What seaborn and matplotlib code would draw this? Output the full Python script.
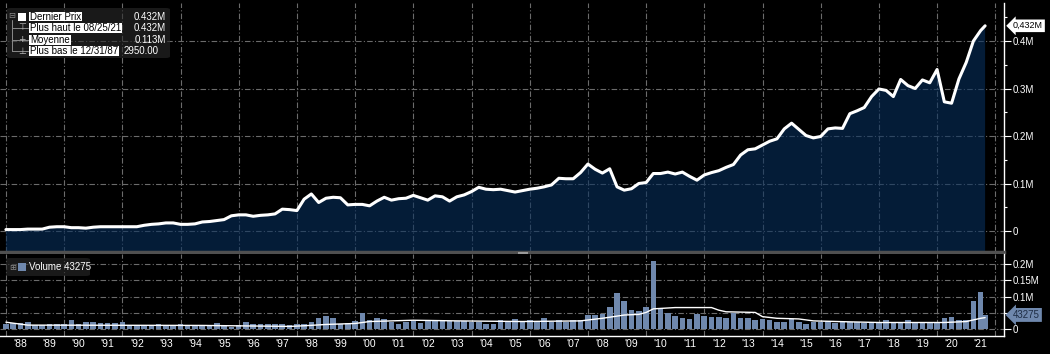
import matplotlib
matplotlib.use('Agg')
import pandas as pd
import matplotlib.pyplot as plt
import matplotlib.dates as mdates
from matplotlib.patches import FancyBboxPatch, Rectangle
from matplotlib.lines import Line2D
from matplotlib.ticker import FixedLocator, FuncFormatter, NullFormatter
from matplotlib.transforms import blended_transform_factory
import seaborn as sns

sns.set_style('dark')
plt.rcParams['font.family'] = ['Liberation Sans Narrow', 'Liberation Sans', 'DejaVu Sans']

# ---- data (quarter ends, last point 08/25/21) ----
quarter_days = [(3, 31), (6, 30), (9, 30), (12, 31)]
dates = [pd.Timestamp(y, m, d) for y in range(1987, 2022) for m, d in quarter_days
         if (1987, 12) <= (y, m) <= (2021, 6)]
dates.append(pd.Timestamp('2021-08-25'))

# last price, millions
price_m = [0.003, 0.003, 0.003, 0.004, 0.004, 0.004, 0.008, 0.009, 0.009, 0.007,
           0.007, 0.006, 0.008, 0.009, 0.009, 0.009, 0.009, 0.009, 0.009, 0.012,
           0.014, 0.015, 0.017, 0.017, 0.014, 0.014, 0.015, 0.019, 0.020, 0.022,
           0.024, 0.032, 0.034, 0.034, 0.031, 0.033, 0.034, 0.036, 0.046, 0.045,
           0.043, 0.067, 0.078, 0.060, 0.069, 0.071, 0.070, 0.055, 0.056, 0.056,
           0.053, 0.063, 0.071, 0.065, 0.068, 0.069, 0.075, 0.070, 0.065, 0.074,
           0.072, 0.063, 0.072, 0.076, 0.083, 0.092, 0.088, 0.087, 0.088, 0.085,
           0.082, 0.085, 0.088, 0.090, 0.093, 0.097, 0.111, 0.110, 0.110, 0.123,
           0.141, 0.130, 0.122, 0.131, 0.093, 0.086, 0.089, 0.100, 0.102, 0.121,
           0.121, 0.124, 0.120, 0.124, 0.115, 0.107, 0.118, 0.123, 0.127, 0.134,
           0.140, 0.160, 0.171, 0.173, 0.181, 0.189, 0.194, 0.215, 0.227, 0.214,
           0.201, 0.196, 0.199, 0.215, 0.217, 0.216, 0.247, 0.253, 0.260, 0.283,
           0.299, 0.296, 0.283, 0.319, 0.306, 0.300, 0.318, 0.312, 0.340, 0.272,
           0.269, 0.320, 0.355, 0.400, 0.422, 0.432]

# volume, thousands
volume_k = [15, 19, 17, 23, 11, 11, 15, 15, 15, 28, 15, 23, 23, 17, 17, 17, 23, 13, 13, 13,
            9, 15, 9, 13, 15, 13, 13, 9, 11, 19, 13, 7, 13, 23, 15, 15, 15, 15, 15, 11,
            15, 15, 23, 33, 40, 35, 15, 17,
            26, 48, 28, 33, 30, 23, 15, 23, 26, 19, 26, 26, 26, 26, 26, 26, 23, 23, 15, 15,
            28, 23, 30, 23, 28, 23, 35, 23, 28, 23, 28, 28, 43, 43, 47, 69, 112, 86, 58, 55,
            69, 209, 62, 48, 40, 35, 31, 46,
            41, 38, 38, 35, 50, 35, 35, 28, 32, 28, 23, 23, 30, 23, 15, 23, 23, 26, 19, 23,
            23, 23, 19, 19, 19, 28, 19, 19, 28, 19, 19, 19, 19, 34, 38, 28, 28, 87, 115, 43]

# volume moving average, thousands
ma_dates = ['1987-12-31', '1988-09-30', '1994-09-30', '1996-09-30', '1997-09-30',
            '1998-03-31', '1998-12-31', '1999-12-31', '2000-06-30', '2001-12-31',
            '2003-06-30', '2005-09-30', '2007-09-30', '2008-06-30', '2009-03-31',
            '2009-09-30', '2009-12-31', '2010-03-31', '2010-12-31', '2012-03-31',
            '2012-06-30', '2012-09-30', '2013-09-30', '2013-12-31', '2014-06-30',
            '2015-03-31', '2015-09-30', '2016-12-31', '2017-12-31', '2020-03-31',
            '2020-12-31', '2021-06-30', '2021-08-25']
ma_k = [21, 12, 11, 9, 8, 10, 14, 17, 23, 27, 25, 23, 25, 33, 43, 45, 51, 62, 66, 66,
        58, 53, 51, 38, 33, 31, 25, 22, 20, 20, 23, 33, 35]

last_price_label = '0,432M'
last_volume = 43275
legend_labels = ['Dernier Prix', 'Plus haut le 08/25/21', 'Moyenne', 'Plus bas le 12/31/87']
legend_values = ['0.432M', '0.432M', '0.113M', '2950.00']

# ---- layout ----
W, H = 1050, 354
BG = 'black'
FILL = '#082f5d'
BAR = '#6f88ad'
grid_kw = dict(color='#6b6b6b', linewidth=0.8, linestyle=(0, (5, 2, 1, 2)))

def fx(px):
    return px / W

def fy(py):
    return 1 - py / H

fig = plt.figure(figsize=(W / 100, H / 100), dpi=100, facecolor=BG)
ax_p = fig.add_axes([0, fy(252), fx(1004), (252 - 3) / H])
ax_v = fig.add_axes([0, fy(336), fx(1004), (336 - 254) / H])

x0 = mdates.date2num(pd.Timestamp('1987-10-18'))
x1 = mdates.date2num(pd.Timestamp('2022-04-19'))

# ---- price panel ----
df_p = pd.DataFrame({'date': dates, 'price': price_m})
ax_p.set_facecolor(BG)
ax_p.fill_between(df_p['date'], df_p['price'], -1, color=FILL, alpha=0.6, lw=0, zorder=2)
sns.lineplot(data=df_p, x='date', y='price', ax=ax_p, color='white', linewidth=2.2, zorder=4)
ax_p.set_xlim(x0, x1)
ax_p.set_ylim(-0.0442, 0.48)
ax_p.yaxis.tick_right()
ax_p.yaxis.set_major_locator(FixedLocator([0, 0.1, 0.2, 0.3, 0.4]))
ax_p.yaxis.set_minor_locator(FixedLocator([0.05, 0.15, 0.25, 0.35, 0.45]))
ax_p.yaxis.set_major_formatter(FuncFormatter(lambda v, p: '0' if abs(v) < 1e-9 else f'{v:.1f}M'))
ax_p.tick_params(axis='y', which='major', colors='white', labelsize=7, length=5, width=0.8, pad=1)
ax_p.tick_params(axis='y', which='minor', colors='white', length=2.5, width=0.8)
ax_p.set_xticks([])
ax_p.yaxis.grid(True, **grid_kw)
ax_p.set_axisbelow(True)

# ---- volume panel ----
df_v = pd.DataFrame({'date': dates, 'volume': volume_k})
df_ma = pd.DataFrame({'date': pd.to_datetime(ma_dates), 'ma': ma_k})
ax_v.set_facecolor(BG)
ax_v.bar(df_v['date'], df_v['volume'], width=70, color=BAR, lw=0, zorder=3)
sns.lineplot(data=df_ma, x='date', y='ma', ax=ax_v, color='white', linewidth=1, zorder=4)
ax_v.set_xlim(x0, x1)
ax_v.set_ylim(-21.5, 230.8)
ax_v.yaxis.tick_right()
ax_v.yaxis.set_major_locator(FixedLocator([0, 50, 100, 150, 200]))
ax_v.yaxis.set_major_formatter(FuncFormatter(
    lambda v, p: '0' if v == 0 else ('' if v == 50 else f'{v / 1000:g}M')))
ax_v.tick_params(axis='y', which='major', colors='white', labelsize=7, length=5, width=0.8, pad=1)
ax_v.yaxis.grid(True, **grid_kw)
ax_v.set_axisbelow(True)

ax_v.xaxis.set_major_locator(mdates.YearLocator(1))
ax_v.xaxis.set_major_formatter(NullFormatter())
ax_v.xaxis.set_minor_locator(mdates.MonthLocator(bymonth=7, bymonthday=1))
ax_v.xaxis.set_minor_formatter(FuncFormatter(lambda x, p: "'" + mdates.num2date(x).strftime('%y')))
ax_v.tick_params(axis='x', which='major', length=10, width=0.8, color='white', direction='out')
ax_v.tick_params(axis='x', which='minor', length=0, labelsize=7.5, labelcolor='white', pad=2.5)

for ax in (ax_p, ax_v):
    ax.set_xlabel('')
    ax.set_ylabel('')
    for yr in range(1988, 2023, 2):
        ax.axvline(pd.Timestamp(yr, 1, 1), zorder=0.5, **grid_kw)
    ax.spines['left'].set_visible(False)
    ax.spines['top'].set_visible(False)
    ax.spines['right'].set_color('white')
    ax.spines['right'].set_linewidth(1)

ax_p.spines['bottom'].set_color('#505050')
ax_p.spines['bottom'].set_linewidth(2.5)
ax_v.spines['bottom'].set_color('white')
ax_v.spines['bottom'].set_linewidth(1)

# last-value tags on the right axis
tr_p = blended_transform_factory(ax_p.transAxes, ax_p.transData)
ax_p.text(1.009, price_m[-1], last_price_label, transform=tr_p, ha='left', va='center',
          fontsize=6.5, color='black', clip_on=False, zorder=6,
          bbox=dict(boxstyle='larrow,pad=0.2', fc='white', ec='none'))
tr_v = blended_transform_factory(ax_v.transAxes, ax_v.transData)
ax_v.text(1.009, last_volume / 1000, str(last_volume), transform=tr_v, ha='left', va='center',
          fontsize=7, color='#1e2d44', clip_on=False, zorder=6,
          bbox=dict(boxstyle='larrow,pad=0.2', fc=BAR, ec='none'))

# scroll handle on the separator
fig.add_artist(Rectangle((fx(518), fy(254)), 10 / W, 2 / H, transform=fig.transFigure,
                         fc='#9a9a9a', ec='none', zorder=5))

# ---- price legend box (see-through, grid shows behind it) ----
fig.add_artist(FancyBboxPatch((fx(7), fy(58)), fx(163), 50 / H, transform=fig.transFigure,
                              boxstyle='round,pad=0,rounding_size=0.004',
                              fc='#2a2a2a', ec='none', alpha=0.6, zorder=5))
rows_y = [17, 28, 40, 51]
fig.text(fx(12), fy(16), '\u229f', fontsize=6, color='#8a8a8a', ha='center', va='center',
         family='DejaVu Sans', zorder=6)
fig.add_artist(Rectangle((fx(18), fy(21)), 8 / W, 8 / H, transform=fig.transFigure,
                         fc='white', ec='none', zorder=6))
fig.add_artist(Line2D([fx(12), fx(12)], [fy(20), fy(51)], transform=fig.transFigure,
                      color='#8a8a8a', lw=0.7, zorder=6))
for yy in rows_y[1:]:
    fig.add_artist(Line2D([fx(12), fx(28)], [fy(yy), fy(yy)], transform=fig.transFigure,
                          color='#8a8a8a', lw=0.7, zorder=6))
for sym, yy in zip(['\u22a4', '+', '\u22a5'], rows_y[1:]):
    fig.text(fx(22), fy(yy), sym, fontsize=6.5, color='#bbbbbb', ha='center', va='center',
             family='DejaVu Sans', zorder=7)

label_texts = []
for i, (lab, val) in enumerate(zip(legend_labels, legend_values)):
    label_texts.append(fig.text(fx(30), fy(rows_y[i]), lab, fontsize=7, color='black',
                                ha='left', va='center', zorder=8))
    if i < 3:
        fig.text(fx(166), fy(rows_y[i]), val, fontsize=7, color='white', ha='right',
                 va='center', zorder=7)
    else:
        fig.text(fx(124), fy(rows_y[i]), val, fontsize=7, color='white', ha='left',
                 va='center', zorder=7)

# white highlight behind each legend label, sized from the rendered text
fig.canvas.draw()
renderer = fig.canvas.get_renderer()
for t in label_texts:
    bb = t.get_window_extent(renderer).transformed(fig.transFigure.inverted())
    fig.add_artist(Rectangle((bb.x0 - 1 / W, fy(rows_y[label_texts.index(t)]) - 4.5 / H),
                             bb.width + 2 / W, 9 / H, transform=fig.transFigure,
                             fc='white', ec='none', zorder=7))

# ---- volume legend box ----
fig.add_artist(FancyBboxPatch((fx(6), fy(276)), fx(84), 18 / H, transform=fig.transFigure,
                              boxstyle='round,pad=0,rounding_size=0.004',
                              fc='#2a2a2a', ec='none', alpha=0.6, zorder=5))
fig.text(fx(13), fy(267), '\u229e', fontsize=6, color='#8a8a8a', ha='center', va='center',
         family='DejaVu Sans', zorder=6)
fig.add_artist(Rectangle((fx(18), fy(271)), 8 / W, 8 / H, transform=fig.transFigure,
                         fc=BAR, ec='none', zorder=6))
fig.text(fx(29), fy(267), f'Volume {last_volume}', fontsize=7, color='white', ha='left',
         va='center', zorder=6)

fig.savefig('out.png', dpi=100, facecolor=BG)
